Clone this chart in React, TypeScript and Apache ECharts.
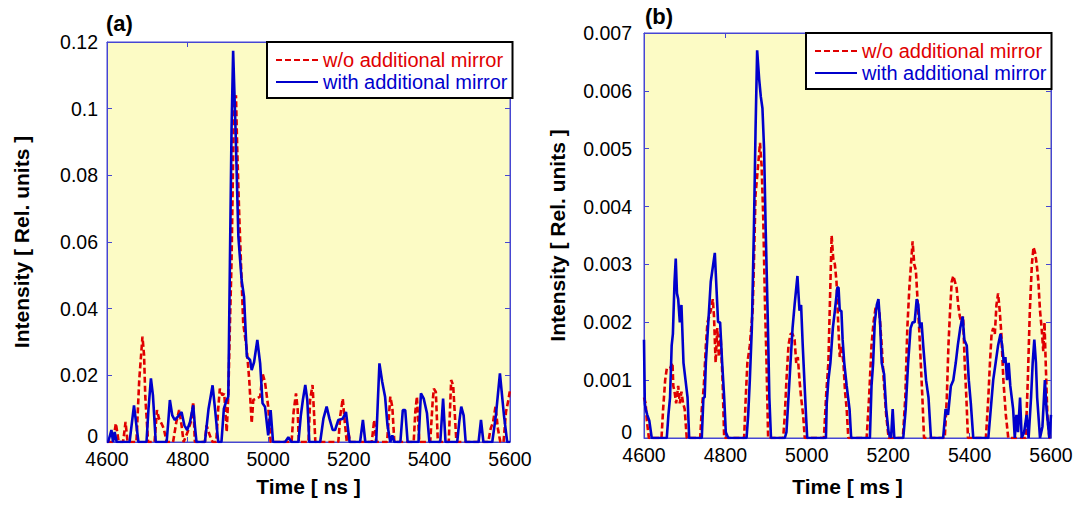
import React, { useEffect, useRef } from "react";
import * as echarts from "echarts";

const NAME_WO = "w/o additional mirror";
const NAME_WITH = "with additional mirror";

// Panel (a): time [ns], intensity
const panelA_without: number[][] = [
  [4600, 0], [4615, 0], [4622, 0.0056], [4629, 0], [4640, 0], [4646, 0.006], [4651, 0],
  [4673, 0], [4680, 0.0186], [4688, 0.0316], [4692, 0.026], [4695, 0.0136], [4702, 0],
  [4718, 0], [4724, 0.0096], [4729, 0.007], [4735, 0.0056], [4741, 0.004], [4748, 0],
  [4764, 0], [4772, 0.006], [4779, 0.0096], [4785, 0.005], [4790, 0], [4800, 0.003],
  [4808, 0.006], [4814, 0.012], [4818, 0], [4843, 0], [4847, 0.005], [4855, 0.002], [4862, 0],
  [4871, 0], [4876, 0.01], [4880, 0.016], [4886, 0.014], [4891, 0.0145], [4897, 0.003],
  [4901, 0.014], [4905, 0.035], [4909, 0.054], [4915, 0.1006], [4920, 0.104], [4923, 0.0886],
  [4928, 0.0686], [4934, 0.0486], [4938, 0.0356], [4947, 0.0276], [4953, 0.0186],
  [4959, 0.0056], [4963, 0.0126], [4970, 0.013], [4980, 0.0136], [4986, 0.0206],
  [4992, 0.018], [5000, 0.0106], [5006, 0], [5058, 0], [5063, 0.009], [5069, 0.0146],
  [5073, 0.01], [5076, 0], [5100, 0], [5104, 0.0126], [5110, 0.0171], [5114, 0.008],
  [5117, 0], [5174, 0], [5179, 0.008], [5185, 0.013], [5190, 0.006], [5195, 0],
  [5199, 0.003], [5203, 0], [5257, 0], [5263, 0.0066], [5268, 0], [5295, 0], [5303, 0.0136],
  [5308, 0.0105], [5313, 0], [5361, 0], [5365, 0.009], [5369, 0.0136], [5375, 0], [5402, 0],
  [5408, 0.012], [5411, 0.016], [5416, 0.015], [5421, 0], [5448, 0], [5454, 0.0186],
  [5459, 0.017], [5467, 0], [5546, 0], [5552, 0.004], [5558, 0.006], [5564, 0.0106],
  [5570, 0.004], [5576, 0], [5584, 0], [5590, 0.009], [5596, 0.0126], [5600, 0.0156],
];

const panelA_with: number[][] = [
  [4600, 0], [4603, 0], [4611, 0.0036], [4615, 0], [4619, 0.003], [4624, 0], [4656, 0],
  [4661, 0.005], [4667, 0.011], [4672, 0.006], [4678, 0], [4698, 0], [4703, 0.01],
  [4709, 0.0191], [4714, 0.014], [4721, 0], [4748, 0], [4752, 0.006], [4756, 0.0126],
  [4762, 0.008], [4768, 0.0066], [4776, 0.0076], [4785, 0.009], [4792, 0.005],
  [4799, 0.0036], [4806, 0.006], [4814, 0.011], [4818, 0.005], [4822, 0], [4843, 0],
  [4852, 0.01], [4862, 0.017], [4868, 0.01], [4876, 0], [4884, 0], [4890, 0.01],
  [4897, 0.0126], [4901, 0.0136], [4905, 0.054], [4909, 0.0936], [4913, 0.1174],
  [4919, 0.0936], [4926, 0.0616], [4934, 0.0486], [4940, 0.0436], [4947, 0.0256],
  [4955, 0.0246], [4959, 0.0216], [4965, 0.024], [4973, 0.0306], [4980, 0.0236],
  [4986, 0.0116], [4992, 0.0106], [5000, 0.002], [5006, 0.0096], [5012, 0], [5042, 0],
  [5050, 0.0014], [5058, 0], [5075, 0], [5081, 0.008], [5086, 0.0126], [5092, 0.0171],
  [5097, 0.0126], [5102, 0], [5129, 0], [5137, 0.007], [5145, 0.0106], [5152, 0.007],
  [5160, 0.0036], [5166, 0.0036], [5174, 0.0066], [5185, 0.007], [5193, 0.009], [5202, 0],
  [5228, 0], [5235, 0.0066], [5241, 0], [5268, 0], [5272, 0.012], [5276, 0.0236],
  [5283, 0.018], [5290, 0.0136], [5296, 0.005], [5303, 0], [5308, 0.002], [5313, 0],
  [5328, 0], [5334, 0.0096], [5340, 0.0096], [5346, 0], [5373, 0], [5379, 0.0146],
  [5386, 0.013], [5394, 0.0086], [5400, 0], [5427, 0], [5434, 0.013], [5440, 0], [5469, 0],
  [5474, 0.006], [5479, 0.0106], [5485, 0.008], [5490, 0], [5522, 0], [5528, 0.0066],
  [5534, 0], [5556, 0], [5565, 0.008], [5575, 0.0206], [5585, 0.008], [5593, 0], [5600, 0],
];

// Panel (b): time [ms], intensity
const panelB_without: number[][] = [
  [4600, 0.0007], [4604, 0.0006], [4607, 0.0003], [4612, 0], [4643, 0], [4647, 0.0005],
  [4652, 0.001], [4656, 0.0012], [4660, 0.0012], [4664, 0.0012], [4670, 0.0013],
  [4672, 0.0009], [4675, 0.0008], [4679, 0.0006], [4684, 0.0009], [4688, 0.0006],
  [4692, 0.0008], [4696, 0.0006], [4700, 0.0005], [4705, 0], [4738, 0], [4742, 0.0005],
  [4747, 0.0009], [4752, 0.0016], [4756, 0.002], [4760, 0.0021], [4764, 0.0022],
  [4769, 0.0024], [4772, 0.0021], [4776, 0.0013], [4780, 0.0019], [4784, 0.0014],
  [4788, 0.0018], [4793, 0.001], [4797, 0], [4846, 0], [4850, 0.0007], [4854, 0.0013],
  [4860, 0.0016], [4867, 0.0022], [4870, 0.003], [4874, 0.0042], [4879, 0.0046],
  [4885, 0.0051], [4889, 0.0047], [4893, 0.0038], [4897, 0.0024], [4901, 0.0013],
  [4905, 0], [4942, 0], [4946, 0.0004], [4950, 0.001], [4955, 0.0016], [4960, 0.0018],
  [4965, 0.0018], [4970, 0.0017], [4974, 0.0013], [4978, 0.0014], [4982, 0.001],
  [4986, 0.0007], [4991, 0.0004], [4995, 0], [5042, 0], [5048, 0.0008], [5053, 0.0013],
  [5057, 0.0024], [5061, 0.0035], [5065, 0.0031], [5069, 0.003], [5073, 0.0027],
  [5077, 0.002], [5081, 0.0014], [5085, 0.0016], [5090, 0.0013], [5094, 0.0008],
  [5098, 0.0005], [5102, 0], [5147, 0], [5153, 0.0007], [5159, 0.0016], [5164, 0.002],
  [5170, 0.0023], [5174, 0.0023], [5178, 0.0022], [5184, 0.0016], [5189, 0.001],
  [5195, 0.0004], [5201, 0], [5236, 0], [5242, 0.0007], [5247, 0.0019], [5252, 0.0026],
  [5256, 0.003], [5260, 0.0034], [5264, 0.003], [5268, 0.0029], [5272, 0.0024],
  [5276, 0.0019], [5280, 0.0013], [5284, 0.0007], [5288, 0], [5339, 0], [5344, 0.0007],
  [5348, 0.0016], [5352, 0.0022], [5356, 0.0027], [5360, 0.0028], [5364, 0.0027],
  [5368, 0.0026], [5372, 0.0023], [5376, 0.0021], [5380, 0.002], [5384, 0.0021],
  [5388, 0.0013], [5392, 0.0007], [5396, 0], [5440, 0], [5446, 0.0007], [5450, 0.0013],
  [5454, 0.0018], [5458, 0.0019], [5462, 0.0018], [5466, 0.0023], [5470, 0.0025],
  [5474, 0.0022], [5478, 0.0018], [5483, 0.001], [5489, 0.0004], [5495, 0], [5538, 0],
  [5543, 0.001], [5548, 0.0022], [5553, 0.003], [5557, 0.0033], [5561, 0.0032],
  [5565, 0.003], [5569, 0.0027], [5573, 0.0022], [5577, 0.0019], [5581, 0.0015],
  [5584, 0.002], [5587, 0.0013], [5591, 0.0004], [5596, 0], [5600, 0],
];

const panelB_with: number[][] = [
  [4600, 0.0017], [4602, 0.0006], [4604, 0.0005], [4608, 0.0004], [4613, 0.0003], [4619, 0],
  [4656, 0], [4660, 0.0004], [4664, 0.0007], [4668, 0.0016], [4671, 0.0018], [4675, 0.0027],
  [4678, 0.0031], [4681, 0.0025], [4684, 0.0024], [4688, 0.002], [4692, 0.0023],
  [4697, 0.0013], [4702, 0.001], [4707, 0.0007], [4711, 0], [4742, 0], [4746, 0.0007],
  [4749, 0.0007], [4752, 0.0013], [4758, 0.002], [4764, 0.0027], [4770, 0.003],
  [4774, 0.0032], [4778, 0.0026], [4782, 0.002], [4787, 0.002], [4792, 0.0013],
  [4797, 0.0007], [4801, 0.0001], [4807, 0], [4852, 0], [4856, 0.0004], [4860, 0.001],
  [4865, 0.0019], [4870, 0.0036], [4874, 0.0053], [4878, 0.0067], [4883, 0.0062],
  [4887, 0.0059], [4891, 0.0057], [4895, 0.005], [4899, 0.0036], [4904, 0.0021],
  [4908, 0.0007], [4912, 0], [4946, 0], [4950, 0.0001], [4955, 0.0007], [4960, 0.0013],
  [4965, 0.0019], [4970, 0.0023], [4977, 0.0028], [4982, 0.0022], [4986, 0.0023],
  [4990, 0.0016], [4994, 0.001], [4998, 0.0004], [5001, 0], [5047, 0], [5049, 0.0006],
  [5053, 0.001], [5058, 0.0013], [5064, 0.0019], [5069, 0.0022], [5075, 0.0026],
  [5078, 0.0026], [5081, 0.0022], [5085, 0.0022], [5088, 0.0017], [5092, 0.0013],
  [5098, 0.0009], [5105, 0.0005], [5109, 0], [5155, 0], [5159, 0.0009], [5163, 0.0013],
  [5167, 0.002], [5172, 0.0023], [5176, 0.0024], [5180, 0.002], [5184, 0.0013],
  [5190, 0.0011], [5195, 0.0005], [5201, 0.0001], [5207, 0], [5211, 0.0005], [5215, 0],
  [5237, 0], [5243, 0.0005], [5249, 0.0013], [5255, 0.0019], [5260, 0.002], [5265, 0.002],
  [5270, 0.0024], [5274, 0.0023], [5278, 0.0019], [5282, 0.002], [5286, 0.0016],
  [5293, 0.001], [5299, 0.0007], [5305, 0], [5335, 0], [5341, 0.0005], [5347, 0.0004],
  [5354, 0.0009], [5360, 0.001], [5366, 0.0013], [5371, 0.0016], [5377, 0.0019],
  [5383, 0.0021], [5387, 0.0017], [5393, 0.0016], [5398, 0.001], [5403, 0.0006], [5409, 0],
  [5446, 0], [5452, 0.0005], [5458, 0.001], [5464, 0.0013], [5470, 0.0016], [5476, 0.0018],
  [5480, 0.0016], [5484, 0.0013], [5488, 0.0014], [5492, 0.001], [5496, 0.0013],
  [5500, 0.0009], [5507, 0.0005], [5511, 0], [5515, 0.0004], [5519, 0.0001],
  [5524, 0.0007], [5528, 0], [5534, 0.0001], [5540, 0.0004], [5545, 0], [5551, 0.0007],
  [5555, 0.0013], [5559, 0.0017], [5563, 0.0013], [5566, 0.0007], [5573, 0],
  [5579, 0.0002], [5585, 0.001], [5589, 0.0005], [5596, 0], [5600, 0.0004],
];

const FONT = "'Liberation Sans', Arial, Helvetica, sans-serif";
const RED = "#e00000";
const BLUE = "#0000cc";
const AXIS = "#4646d2";
const BG = "#fcfbc5";

function fmt(v: number) {
  return String(parseFloat(v.toFixed(4)));
}

function xAx(grid: number, name: string, gap: number, top: boolean) {
  return {
    type: "value",
    gridIndex: grid,
    min: 4600,
    max: 5600,
    interval: 200,
    position: top ? "top" : "bottom",
    name: top ? "" : name,
    nameLocation: "middle",
    nameGap: gap,
    nameTextStyle: { fontFamily: FONT, fontSize: 21, fontWeight: "bold", color: "#000" },
    axisLine: { show: true, onZero: false, lineStyle: { color: AXIS, width: 1 } },
    axisTick: { show: true, inside: true, length: 5, lineStyle: { color: AXIS } },
    axisLabel: {
      show: !top,
      color: "#000",
      fontFamily: FONT,
      fontSize: 19.5,
      lineHeight: 14,
      margin: 10,
      formatter: (v: number) => fmt(v),
    },
    splitLine: { show: false },
  };
}

function yAx(grid: number, max: number, interval: number, gap: number, right: boolean, labelMargin: number) {
  return {
    type: "value",
    gridIndex: grid,
    min: 0,
    max,
    interval,
    position: right ? "right" : "left",
    name: right ? "" : "Intensity [ Rel. units ]",
    nameLocation: "middle",
    nameGap: gap,
    nameTextStyle: { fontFamily: FONT, fontSize: 21, fontWeight: "bold", color: "#000" },
    axisLine: { show: true, onZero: false, lineStyle: { color: AXIS, width: 1 } },
    axisTick: { show: true, inside: true, length: 5, lineStyle: { color: AXIS } },
    axisLabel: {
      show: !right,
      color: "#000",
      fontFamily: FONT,
      fontSize: 19.5,
      lineHeight: 14,
      margin: labelMargin,
      formatter: (v: number) => (v === 0 ? "{z|0}" : fmt(v)),
      rich: {
        z: {
          fontFamily: FONT,
          fontSize: 19.5,
          lineHeight: 14,
          color: "#000",
          padding: [0, 0, 12, 0],
        },
      },
    },
    splitLine: { show: false },
  };
}

function legendAt(left: number, top: number) {
  return {
    orient: "vertical",
    left,
    top,
    itemWidth: 42,
    itemHeight: 14,
    itemGap: 0,
    padding: [7, 5, 5, 8],
    backgroundColor: "#ffffff",
    borderColor: "#000000",
    borderWidth: 2,
    borderRadius: 0,
    selectedMode: false,
    itemStyle: { color: "rgba(0,0,0,0)", borderColor: "rgba(0,0,0,0)", borderWidth: 0, opacity: 0 },
    textStyle: { fontFamily: FONT, fontSize: 20, lineHeight: 22 },
    data: [
      { name: NAME_WO, textStyle: { color: RED } },
      { name: NAME_WITH, textStyle: { color: BLUE } },
    ],
  };
}

function lineSeries(name: string, data: number[][], xi: number, yi: number, dashed: boolean) {
  return {
    type: "line",
    name,
    data,
    xAxisIndex: xi,
    yAxisIndex: yi,
    symbol: "none",
    showSymbol: false,
    smooth: false,
    clip: true,
    lineStyle: dashed
      ? { color: RED, width: 2.6, type: [6, 3] }
      : { color: BLUE, width: 2.6, type: "solid" },
    itemStyle: { color: dashed ? RED : BLUE },
  };
}

export default function App() {
  const ref = useRef<HTMLDivElement>(null);
  useEffect(() => {
    if (!ref.current) return;
    const chart = echarts.init(ref.current, null, { renderer: "svg" });
    chart.setOption({
      animation: false,
      backgroundColor: "#ffffff",
      title: [
        {
          text: "(a)",
          left: 106,
          top: 12,
          padding: 0,
          textStyle: { fontFamily: FONT, fontSize: 22, fontWeight: "bold", color: "#000" },
        },
        {
          text: "(b)",
          left: 645,
          top: 5,
          padding: 0,
          textStyle: { fontFamily: FONT, fontSize: 22, fontWeight: "bold", color: "#000" },
        },
      ],
      legend: [legendAt(267, 42), legendAt(806, 33)],
      grid: [
        { left: 107, top: 42, width: 403, height: 400, show: true, backgroundColor: BG, borderColor: AXIS, borderWidth: 1 },
        { left: 644, top: 33, width: 407, height: 405, show: true, backgroundColor: BG, borderColor: AXIS, borderWidth: 1 },
      ],
      xAxis: [
        xAx(0, "Time [ ns ]", 34, false),
        xAx(0, "", 0, true),
        xAx(1, "Time [ ms ]", 38, false),
        xAx(1, "", 0, true),
      ],
      yAxis: [
        yAx(0, 0.12, 0.02, 75, false, 9),
        yAx(0, 0.12, 0.02, 0, true, 8),
        yAx(1, 0.007, 0.001, 76, false, 12),
        yAx(1, 0.007, 0.001, 0, true, 8),
      ],
      series: [
        lineSeries(NAME_WO, panelA_without, 0, 0, true),
        lineSeries(NAME_WITH, panelA_with, 0, 0, false),
        lineSeries(NAME_WO, panelB_without, 2, 2, true),
        lineSeries(NAME_WITH, panelB_with, 2, 2, false),
      ],
    });
    return () => chart.dispose();
  }, []);
  return (
    <div
      ref={ref}
      style={{ position: "fixed", left: 0, top: 0, width: 1079, height: 507, background: "#fff" }}
    />
  );
}
